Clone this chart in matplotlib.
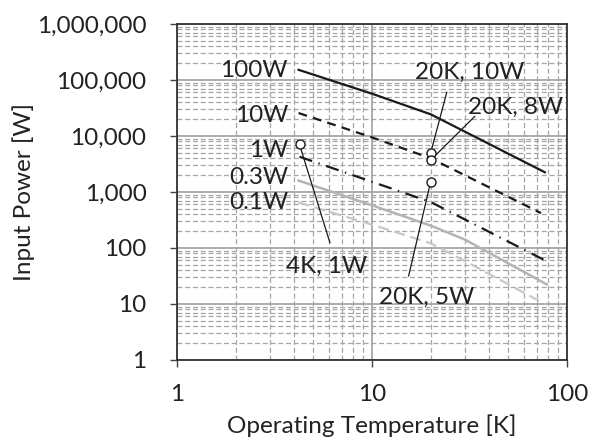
import matplotlib
matplotlib.use("Agg")
import matplotlib.pyplot as plt
from matplotlib.ticker import LogLocator, FuncFormatter, NullFormatter

plt.rcParams['font.family'] = ['Lato', 'DejaVu Sans']

# ---- data ----
temp = [4.2, 10, 20, 77]
p_100w = [152000, 56900, 24400, 2250]
temp_10w = [4.2, 10, 20, 73.6]
p_10w = [25700, 9440, 4000, 420]
temp_1w = [4.25, 10, 20, 78.7]
p_1w = [4260, 1520, 662, 58]
temp_03w = [4.2, 10, 20, 30, 78.7]
p_03w = [1600, 578, 251, 141, 22.4]
temp_01w = [4.2, 10, 20, 33, 77]
p_01w = [650, 262, 121, 49, 10]

series_labels = ["100W", "10W", "1W", "0.3W", "0.1W"]
label_y = [147500, 23400, 5590, 1780, 640]

point_names = ["4K, 1W", "20K, 10W", "20K, 8W", "20K, 5W"]
point_t = [4.25, 20, 20, 20]
point_p = [7060, 5010, 3720, 1530]

x_ticks = [1, 10, 100]
y_ticks = [1, 10, 100, 1000, 10000, 100000, 1000000]

fig = plt.figure(figsize=(5.9, 4.41), dpi=100)
ax = fig.add_axes([0.30, 0.1837, 0.661, 0.7619])
ax.set_xscale('log')
ax.set_yscale('log')
ax.set_xlim(1, 100)
ax.set_ylim(1, 1000000)

gcol = '#a6a6a6'
ax.xaxis.set_minor_locator(LogLocator(base=10, subs=range(2, 10)))
ax.yaxis.set_minor_locator(LogLocator(base=10, subs=range(2, 10)))
ax.grid(which='major', color=gcol, lw=1.3, ls='-')
ax.grid(which='minor', color=gcol, lw=0.9, ls=(0, (4, 2.2)))
ax.set_axisbelow(True)

ax.plot(temp, p_100w, color='#1a1a1a', lw=1.6, ls='-')
ax.plot(temp_10w, p_10w, color='#1a1a1a', lw=1.6, ls=(0, (4, 2.8)))
ax.plot(temp_1w, p_1w, color='#1a1a1a', lw=1.6, ls=(0, (6, 3, 0.6, 3)))
ax.plot(temp_03w, p_03w, color='#b4b4b4', lw=1.8, ls='-')
ax.plot(temp_01w, p_01w, color='#c8c8c8', lw=1.6, ls=(0, (5, 2.5)))

ax.plot(point_t, point_p, ls='none', marker='o', ms=6.5, mfc='white',
        mec='#1a1a1a', mew=1.0, zorder=5)

fs = 17.5
for lab, yy in zip(series_labels, label_y):
    ax.text(3.71, yy, lab, ha='right', va='center', fontsize=fs, color='#222222')

# annotation labels: (text position, leader end)
ann_text = [(5.88, 46.7), (31.6, 137600), (54.8, 32900), (19.1, 13.0)]
ann_lead = [(6.09, 123), (24.2, 60700), (33.7, 22500), (15.4, 31.4)]
for name, t, p, tx, ld in zip(point_names, point_t, point_p, ann_text, ann_lead):
    ax.annotate('', xy=(t, p), xytext=ld,
                arrowprops=dict(arrowstyle='-', lw=0.9, color='#1a1a1a',
                                shrinkA=0, shrinkB=3.5))
    ax.text(tx[0], tx[1], name, ha='center', va='center', fontsize=fs,
            color='#222222')

ax.set_xticks(x_ticks)
ax.set_yticks(y_ticks)
ax.xaxis.set_minor_formatter(NullFormatter())
ax.yaxis.set_minor_formatter(NullFormatter())
ax.xaxis.set_major_formatter(FuncFormatter(lambda v, p: f"{v:,.0f}"))
ax.yaxis.set_major_formatter(FuncFormatter(lambda v, p: f"{v:,.0f}"))
ax.tick_params(which='major', direction='out', length=5, width=1,
               color='#444444', labelsize=fs, labelcolor='#222222')
ax.tick_params(axis='y', which='major', pad=17)
ax.tick_params(axis='x', which='major', pad=12)
ax.tick_params(which='minor', length=0)

for s in ax.spines.values():
    s.set_color('#333333')
    s.set_linewidth(1.3)

ax.set_xlabel('Operating Temperature [K]', fontsize=fs, color='#222222', labelpad=7)
ax.set_ylabel('Input Power [W]', fontsize=fs, color='#222222')
ax.yaxis.set_label_coords(-0.365, 0.5)

fig.savefig('out.png', dpi=100)
